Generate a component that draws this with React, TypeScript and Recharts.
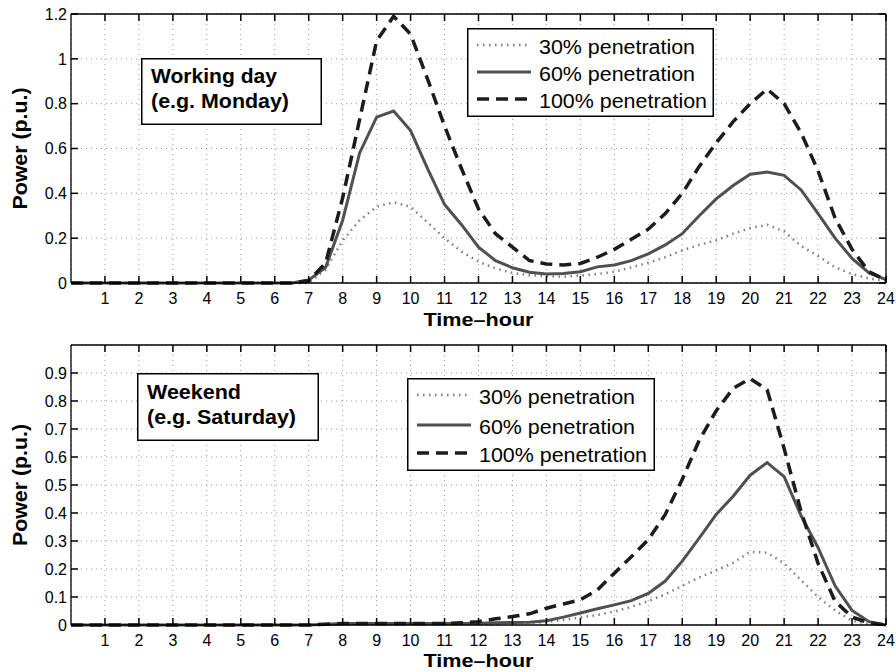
import React from 'react';
import { LineChart, Line, XAxis, YAxis, CartesianGrid, Legend } from 'recharts';

// half-hour sampling, 0..24 h
const hours = [
  0, 0.5, 1, 1.5, 2, 2.5, 3, 3.5, 4, 4.5, 5, 5.5, 6, 6.5, 7, 7.5, 8, 8.5, 9, 9.5, 10, 10.5, 11, 11.5,
  12, 12.5, 13, 13.5, 14, 14.5, 15, 15.5, 16, 16.5, 17, 17.5, 18, 18.5, 19, 19.5, 20, 20.5, 21, 21.5,
  22, 22.5, 23, 23.5, 24,
];

// working day (e.g. Monday)
const workday30 = [
  0, 0, 0, 0, 0, 0, 0, 0, 0, 0, 0, 0, 0, 0,
  0, 0.06, 0.19, 0.28, 0.34, 0.36, 0.34, 0.27, 0.2, 0.14, 0.095, 0.065, 0.045, 0.035, 0.03, 0.028,
  0.033, 0.04, 0.05, 0.07, 0.09, 0.115, 0.145, 0.17, 0.19, 0.22, 0.245, 0.26, 0.23, 0.165, 0.12,
  0.07, 0.04, 0.02, 0.01,
];
const workday60 = [
  0, 0, 0, 0, 0, 0, 0, 0, 0, 0, 0, 0, 0, 0,
  0.013, 0.07, 0.28, 0.58, 0.74, 0.767, 0.68, 0.51, 0.35, 0.26, 0.16, 0.1, 0.068, 0.048, 0.04, 0.042,
  0.05, 0.072, 0.08, 0.1, 0.13, 0.17, 0.22, 0.3, 0.375, 0.435, 0.485, 0.495, 0.48, 0.415, 0.31,
  0.2, 0.11, 0.045, 0.015,
];
const workday100 = [
  0, 0, 0, 0, 0, 0, 0, 0, 0, 0, 0, 0, 0, 0,
  0.01, 0.09, 0.38, 0.73, 1.08, 1.19, 1.11, 0.91, 0.7, 0.51, 0.33, 0.22, 0.16, 0.1, 0.085, 0.08,
  0.087, 0.115, 0.15, 0.195, 0.24, 0.31, 0.4, 0.52, 0.625, 0.72, 0.8, 0.865, 0.8, 0.67, 0.5,
  0.29, 0.15, 0.05, 0.013,
];

// weekend (e.g. Saturday)
const weekend30 = [
  0, 0, 0, 0, 0, 0, 0, 0, 0, 0, 0, 0, 0, 0, 0,
  0.002, 0.004, 0.004, 0.004, 0.004, 0.004, 0.004, 0.004, 0.004, 0.005, 0.006, 0.007, 0.008, 0.01,
  0.018, 0.027, 0.036, 0.048, 0.065, 0.085, 0.11, 0.14, 0.17, 0.195, 0.222, 0.262, 0.258, 0.22,
  0.16, 0.1, 0.052, 0.015, 0.004, 0,
];
const weekend60 = [
  0, 0, 0, 0, 0, 0, 0, 0, 0, 0, 0, 0, 0, 0, 0,
  0.003, 0.005, 0.005, 0.005, 0.005, 0.005, 0.005, 0.005, 0.005, 0.006, 0.008, 0.009, 0.01, 0.015,
  0.028, 0.043, 0.058, 0.072, 0.087, 0.113, 0.157, 0.228, 0.31, 0.395, 0.46, 0.535, 0.58, 0.53,
  0.39, 0.276, 0.14, 0.052, 0.012, 0,
];
const weekend100 = [
  0, 0, 0, 0, 0, 0, 0, 0, 0, 0, 0, 0, 0, 0, 0,
  0.003, 0.005, 0.005, 0.005, 0.005, 0.005, 0.005, 0.005, 0.008, 0.012, 0.022, 0.03, 0.04, 0.06,
  0.075, 0.09, 0.125, 0.185, 0.244, 0.305, 0.395, 0.52, 0.66, 0.765, 0.845, 0.88, 0.84, 0.63,
  0.405, 0.22, 0.085, 0.028, 0.008, 0,
];

const hourTicks = [1, 2, 3, 4, 5, 6, 7, 8, 9, 10, 11, 12, 13, 14, 15, 16, 17, 18, 19, 20, 21, 22, 23, 24];
const workdayTicks = [0, 0.2, 0.4, 0.6, 0.8, 1, 1.2];
const weekendTicks = [0, 0.1, 0.2, 0.3, 0.4, 0.5, 0.6, 0.7, 0.8, 0.9];
const seriesNames = ['30% penetration', '60% penetration', '100% penetration'];

const FONT = '"Liberation Sans", Arial, Helvetica, sans-serif';

const seriesStyle = [
  { key: 'p30', stroke: '#7c7c7c', width: 2.5, dash: '1.5 4.5' },
  { key: 'p60', stroke: '#505050', width: 3, dash: undefined },
  { key: 'p100', stroke: '#1c1c1c', width: 3.5, dash: '12 7' },
];

const toRows = (a: number[], b: number[], c: number[]) =>
  hours.map((h, i) => ({ hour: h, p30: a[i], p60: b[i], p100: c[i] }));

const workdayRows = toRows(workday30, workday60, workday100);
const weekendRows = toRows(weekend30, weekend60, weekend100);

const frame = { stroke: '#000', strokeWidth: 1.3 };
const tickMark = { stroke: '#000', strokeWidth: 1.5 };
const tickText = { fill: '#000', fontSize: 16, fontFamily: FONT };
// mirrored axes only carry the inward tick marks, no labels
const noLabel = () => <g />;

function YTitle(props: any) {
  const vb = props.viewBox || { x: 0, y: 0, width: 71, height: 270 };
  const x = vb.x + 27;
  const y = vb.y + vb.height / 2;
  return (
    <text x={x} y={y} transform={`rotate(-90, ${x}, ${y})`} textAnchor="middle" fontFamily={FONT}
      fontWeight="bold" fontSize={20} textLength={122} lengthAdjust="spacingAndGlyphs" fill="#000">
      Power (p.u.)
    </text>
  );
}

function makeXTitle(baseline: number) {
  return (props: any) => {
    const vb = props.viewBox || { x: 71, y: 0, width: 815, height: 47 };
    return (
      <text x={vb.x + vb.width / 2} y={vb.y + baseline} textAnchor="middle" fontFamily={FONT}
        fontWeight="bold" fontSize={18} textLength={110} lengthAdjust="spacingAndGlyphs" fill="#000">
        Time–hour
      </text>
    );
  };
}

function LegendBox({ w, h, rows }: { w: number; h: number; rows: number[] }) {
  return (
    <svg width={w} height={h} style={{ display: 'block' }}>
      <rect x={0.75} y={0.75} width={w - 1.5} height={h - 1.5} fill="#fff" stroke="#000" strokeWidth={1.5} />
      {seriesStyle.map((s, i) => (
        <g key={s.key}>
          <line x1={10} x2={64} y1={rows[i] - 2} y2={rows[i] - 2} stroke={s.stroke}
            strokeWidth={s.width} strokeDasharray={s.dash} />
          <text x={72} y={rows[i] + 7} fontFamily={FONT} fontSize={20} fill="#000"
            textLength={i === 2 ? 168 : 156} lengthAdjust="spacingAndGlyphs">
            {seriesNames[i]}
          </text>
        </g>
      ))}
    </svg>
  );
}

function NoteBox({ left, top, w, h, lines, widths, baselines }: any) {
  return (
    <svg width={w} height={h} style={{ position: 'absolute', left, top }}>
      <rect x={0.75} y={0.75} width={w - 1.5} height={h - 1.5} fill="#fff" stroke="#000" strokeWidth={1.5} />
      {lines.map((t: string, i: number) => (
        <text key={t} x={10} y={baselines[i]} fontFamily={FONT} fontWeight="bold" fontSize={20}
          fill="#000" textLength={widths[i]} lengthAdjust="spacingAndGlyphs">
          {t}
        </text>
      ))}
    </svg>
  );
}

function Panel({ data, yTicks, yMax, top, height, marginTop, xBaseline, legend, note }: any) {
  return (
    <div style={{ position: 'absolute', left: 0, top, width: 896, height }}>
      <LineChart width={896} height={height} data={data}
        margin={{ top: marginTop, right: 10, bottom: 0, left: 0 }}>
        <CartesianGrid stroke="#9a9a9a" strokeDasharray="1 4" />
        <XAxis dataKey="hour" type="number" domain={[0, 24]} ticks={hourTicks} interval={0}
          tickLine={false} tickSize={6} tickMargin={4} height={47} axisLine={frame} tick={tickText}
          label={makeXTitle(xBaseline)} />
        <YAxis type="number" domain={[0, yMax]} ticks={yTicks} interval={0} width={71}
          tickLine={false} tickSize={0} tickMargin={4} axisLine={frame} tick={tickText} label={YTitle} />
        <XAxis xAxisId="xb" dataKey="hour" type="number" domain={[0, 24]} ticks={hourTicks} interval={0}
          allowDataOverflow orientation="bottom" mirror tick={noLabel} tickSize={7} tickLine={tickMark}
          axisLine={false} />
        <XAxis xAxisId="xt" dataKey="hour" type="number" domain={[0, 24]} ticks={hourTicks} interval={0}
          allowDataOverflow orientation="top" mirror tick={noLabel} tickSize={7} tickLine={tickMark}
          axisLine={frame} />
        <YAxis yAxisId="yl" type="number" domain={[0, yMax]} ticks={yTicks} interval={0}
          allowDataOverflow orientation="left" mirror tick={noLabel} tickSize={7} tickLine={tickMark}
          axisLine={false} />
        <YAxis yAxisId="yr" type="number" domain={[0, yMax]} ticks={yTicks} interval={0}
          allowDataOverflow orientation="right" mirror tick={noLabel} tickSize={7} tickLine={tickMark}
          axisLine={frame} />
        {seriesStyle.map((s, i) => (
          <Line key={s.key} dataKey={s.key} name={seriesNames[i]} type="linear" stroke={s.stroke}
            strokeWidth={s.width} strokeDasharray={s.dash} dot={false} activeDot={false}
            isAnimationActive={false} />
        ))}
        <Legend layout="vertical" align="center" verticalAlign="middle"
          wrapperStyle={{ left: legend.left, top: legend.top, width: legend.w, height: legend.h }}
          content={() => <LegendBox w={legend.w} h={legend.h} rows={legend.rows} />} />
      </LineChart>
      <NoteBox {...note} />
    </div>
  );
}

export default function App() {
  return (
    <div style={{ position: 'absolute', left: 0, top: 0, width: 896, height: 672, background: '#fff' }}>
      <Panel data={workdayRows} yTicks={workdayTicks} yMax={1.2} top={0} height={330} marginTop={14}
        xBaseline={43}
        legend={{ left: 467, top: 28, w: 247, h: 89, rows: [19, 46, 73] }}
        note={{ left: 141, top: 58, w: 181, h: 67, lines: ['Working day', '(e.g. Monday)'],
          widths: [126, 138], baselines: [25, 50] }} />
      <Panel data={weekendRows} yTicks={weekendTicks} yMax={1} top={330} height={342} marginTop={15}
        xBaseline={42}
        legend={{ left: 407, top: 48, w: 248, h: 93, rows: [19, 49, 77] }}
        note={{ left: 137, top: 43, w: 182, h: 68, lines: ['Weekend', '(e.g. Saturday)'],
          widths: [94, 149], baselines: [26, 51] }} />
    </div>
  );
}
